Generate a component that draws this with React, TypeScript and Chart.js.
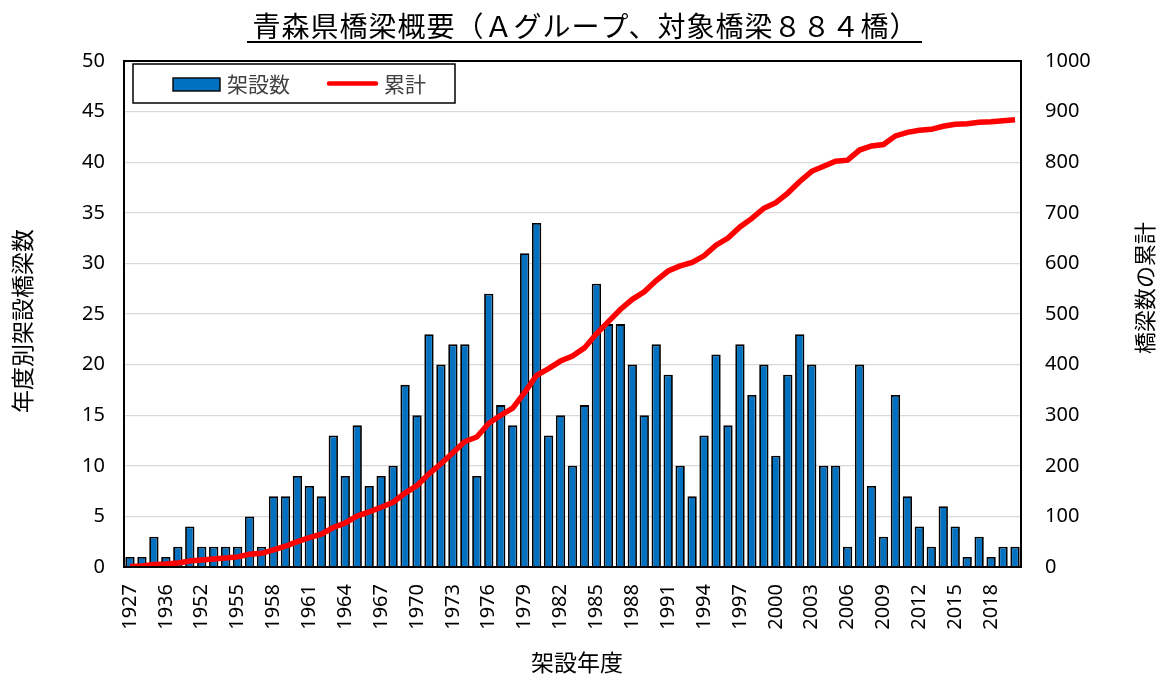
import React, { useEffect, useRef } from 'react';
import { Chart, registerables } from 'chart.js';

Chart.register(...registerables);

const years: string[] = [
  '1927', '1930', '1933', '1936', '1940', '1948', '1952', '1953', '1954',
  '1955', '1956', '1957', '1958', '1959', '1960', '1961', '1962', '1963', '1964',
  '1965', '1966', '1967', '1968', '1969', '1970', '1971', '1972', '1973', '1974',
  '1975', '1976', '1977', '1978', '1979', '1980', '1981', '1982', '1983', '1984',
  '1985', '1986', '1987', '1988', '1989', '1990', '1991', '1992', '1993', '1994',
  '1995', '1996', '1997', '1998', '1999', '2000', '2001', '2002', '2003', '2004',
  '2005', '2006', '2007', '2008', '2009', '2010', '2011', '2012', '2013', '2014',
  '2015', '2016', '2017', '2018', '2019', '2020',
];

const bridgeCounts: number[] = [
  1, 1, 3, 1, 2, 4, 2, 2, 2,
  2, 5, 2, 7, 7, 9, 8, 7, 13, 9,
  14, 8, 9, 10, 18, 15, 23, 20, 22, 22,
  9, 27, 16, 14, 31, 34, 13, 15, 10, 16,
  28, 24, 24, 20, 15, 22, 19, 10, 7, 13,
  21, 14, 22, 17, 20, 11, 19, 23, 20, 10,
  10, 2, 20, 8, 3, 17, 7, 4, 2, 6,
  4, 1, 3, 1, 2, 2,
];

const cumulativeCounts: number[] = [
  1, 2, 5, 6, 8, 12, 14, 16, 18,
  20, 25, 27, 34, 41, 50, 58, 65, 78, 87,
  101, 109, 118, 128, 146, 161, 184, 204, 226, 248,
  257, 284, 300, 314, 345, 379, 392, 407, 417, 433,
  461, 485, 509, 529, 544, 566, 585, 595, 602, 615,
  636, 650, 672, 689, 709, 720, 739, 762, 782, 792,
  802, 804, 824, 832, 835, 852, 859, 863, 865, 871,
  875, 876, 879, 880, 882, 884,
];

const chartTitle = '青森県橋梁概要（Ａグループ、対象橋梁８８４橋）';
const leftAxisTitle = '年度別架設橋梁数';
const rightAxisTitle = '橋梁数の累計';
const xAxisTitle = '架設年度';
const barLabel = '架設数';
const lineLabel = '累計';

const NUM_FONT = "'Noto Sans', 'Noto Sans CJK JP', sans-serif";
const JP_FONT = "'Noto Sans CJK JP', 'Noto Sans', sans-serif";
const BAR_COLOR = '#0070C0';
const LINE_COLOR = '#FF0000';

const decorPlugin = {
  id: 'decor',
  afterDatasetsDraw(chart: any) {
    const { ctx, chartArea: a } = chart;
    ctx.save();
    ctx.strokeStyle = '#000';
    ctx.lineWidth = 2;
    ctx.strokeRect(a.left, a.top, a.right - a.left, a.bottom - a.top);
    ctx.restore();
  },
  afterDraw(chart: any) {
    const { ctx } = chart;
    ctx.save();
    // Title
    ctx.fillStyle = '#000';
    ctx.font = `28px ${JP_FONT}`;
    (ctx as any).letterSpacing = '1px';
    ctx.textAlign = 'left';
    ctx.textBaseline = 'middle';
    const w = ctx.measureText(chartTitle).width;
    const cx = 585;
    ctx.fillText(chartTitle, cx - w / 2 + 0.5, 26);
    (ctx as any).letterSpacing = '0px';
    ctx.fillRect(247, 41, 675, 2);

    // Left axis title
    ctx.font = `23px ${JP_FONT}`;
    ctx.textAlign = 'center';
    ctx.textBaseline = 'middle';
    ctx.save();
    ctx.translate(22, 321);
    ctx.rotate(-Math.PI / 2);
    ctx.fillText(leftAxisTitle, 0, 0);
    ctx.restore();

    // Right axis title
    ctx.font = `22px ${JP_FONT}`;
    ctx.save();
    ctx.translate(1145, 288);
    ctx.rotate(-Math.PI / 2);
    ctx.fillText(rightAxisTitle, 0, 0);
    ctx.restore();

    // X axis title
    ctx.font = `23px ${JP_FONT}`;
    ctx.fillText(xAxisTitle, 577, 662);

    // Legend
    ctx.fillStyle = '#fff';
    ctx.fillRect(133, 64, 322, 39);
    ctx.strokeStyle = '#000';
    ctx.lineWidth = 1.5;
    ctx.strokeRect(133, 64, 322, 39);
    ctx.fillStyle = BAR_COLOR;
    ctx.fillRect(173, 78, 47, 13);
    ctx.lineWidth = 1.4;
    ctx.strokeRect(173, 78, 47, 13);
    ctx.strokeStyle = LINE_COLOR;
    ctx.lineWidth = 4.5;
    ctx.lineCap = 'round';
    ctx.beginPath();
    ctx.moveTo(329, 83.5);
    ctx.lineTo(376, 83.5);
    ctx.stroke();
    ctx.fillStyle = '#404040';
    ctx.font = `21px ${JP_FONT}`;
    ctx.textAlign = 'left';
    ctx.textBaseline = 'middle';
    ctx.fillText(barLabel, 227, 84);
    ctx.fillText(lineLabel, 384, 84);
    ctx.restore();
  },
};

export default function App() {
  const ref = useRef<HTMLCanvasElement>(null);

  useEffect(() => {
    if (!ref.current) return;
    const chart = new Chart(ref.current, {
      type: 'bar',
      data: {
        labels: years,
        datasets: [
          {
            type: 'line',
            label: lineLabel,
            data: cumulativeCounts,
            yAxisID: 'y1',
            borderColor: LINE_COLOR,
            backgroundColor: LINE_COLOR,
            borderWidth: 5.5,
            pointRadius: 0,
            tension: 0,
            order: 0,
          } as any,
          {
            type: 'bar',
            label: barLabel,
            data: bridgeCounts,
            yAxisID: 'y',
            backgroundColor: BAR_COLOR,
            borderColor: '#000',
            borderWidth: 1.8,
            categoryPercentage: 1,
            barPercentage: 0.78,
            order: 1,
          },
        ],
      },
      options: {
        animation: false,
        responsive: false,
        maintainAspectRatio: false,
        layout: { padding: { top: 61, left: 0, right: 0, bottom: 0 } },
        plugins: {
          legend: { display: false },
          title: { display: false },
          tooltip: { enabled: false },
        },
        scales: {
          x: {
            type: 'category',
            offset: true,
            grid: { display: false, drawTicks: false },
            border: { display: false },
            ticks: {
              autoSkip: false,
              minRotation: 90,
              maxRotation: 90,
              padding: 17,
              color: '#000',
              font: { family: NUM_FONT, size: 20 },
              callback: (_v: any, i: number) => (i % 3 === 0 ? years[i] : ''),
            },
            afterFit: (s: any) => {
              s.height = 110;
            },
          },
          y: {
            position: 'left',
            min: 0,
            max: 50,
            grid: { color: '#d9d9d9', lineWidth: 1.3, drawTicks: false },
            border: { display: false },
            ticks: {
              stepSize: 5,
              padding: 19,
              color: '#000',
              font: { family: NUM_FONT, size: 20 },
            },
            afterFit: (s: any) => {
              s.width = 124;
            },
          },
          y1: {
            position: 'right',
            min: 0,
            max: 1000,
            grid: { display: false, drawOnChartArea: false, drawTicks: false },
            border: { display: false },
            ticks: {
              stepSize: 100,
              padding: 24,
              color: '#000',
              font: { family: NUM_FONT, size: 20 },
              callback: (v: any) => String(v),
            },
            afterFit: (s: any) => {
              s.width = 141;
            },
          },
        },
      },
      plugins: [decorPlugin],
    });
    return () => chart.destroy();
  }, []);

  return (
    <div style={{ position: 'absolute', left: 0, top: 0, width: 1162, height: 677, background: '#fff' }}>
      <canvas ref={ref} width={1162} height={677} style={{ display: 'block', width: 1162, height: 677 }} />
    </div>
  );
}
